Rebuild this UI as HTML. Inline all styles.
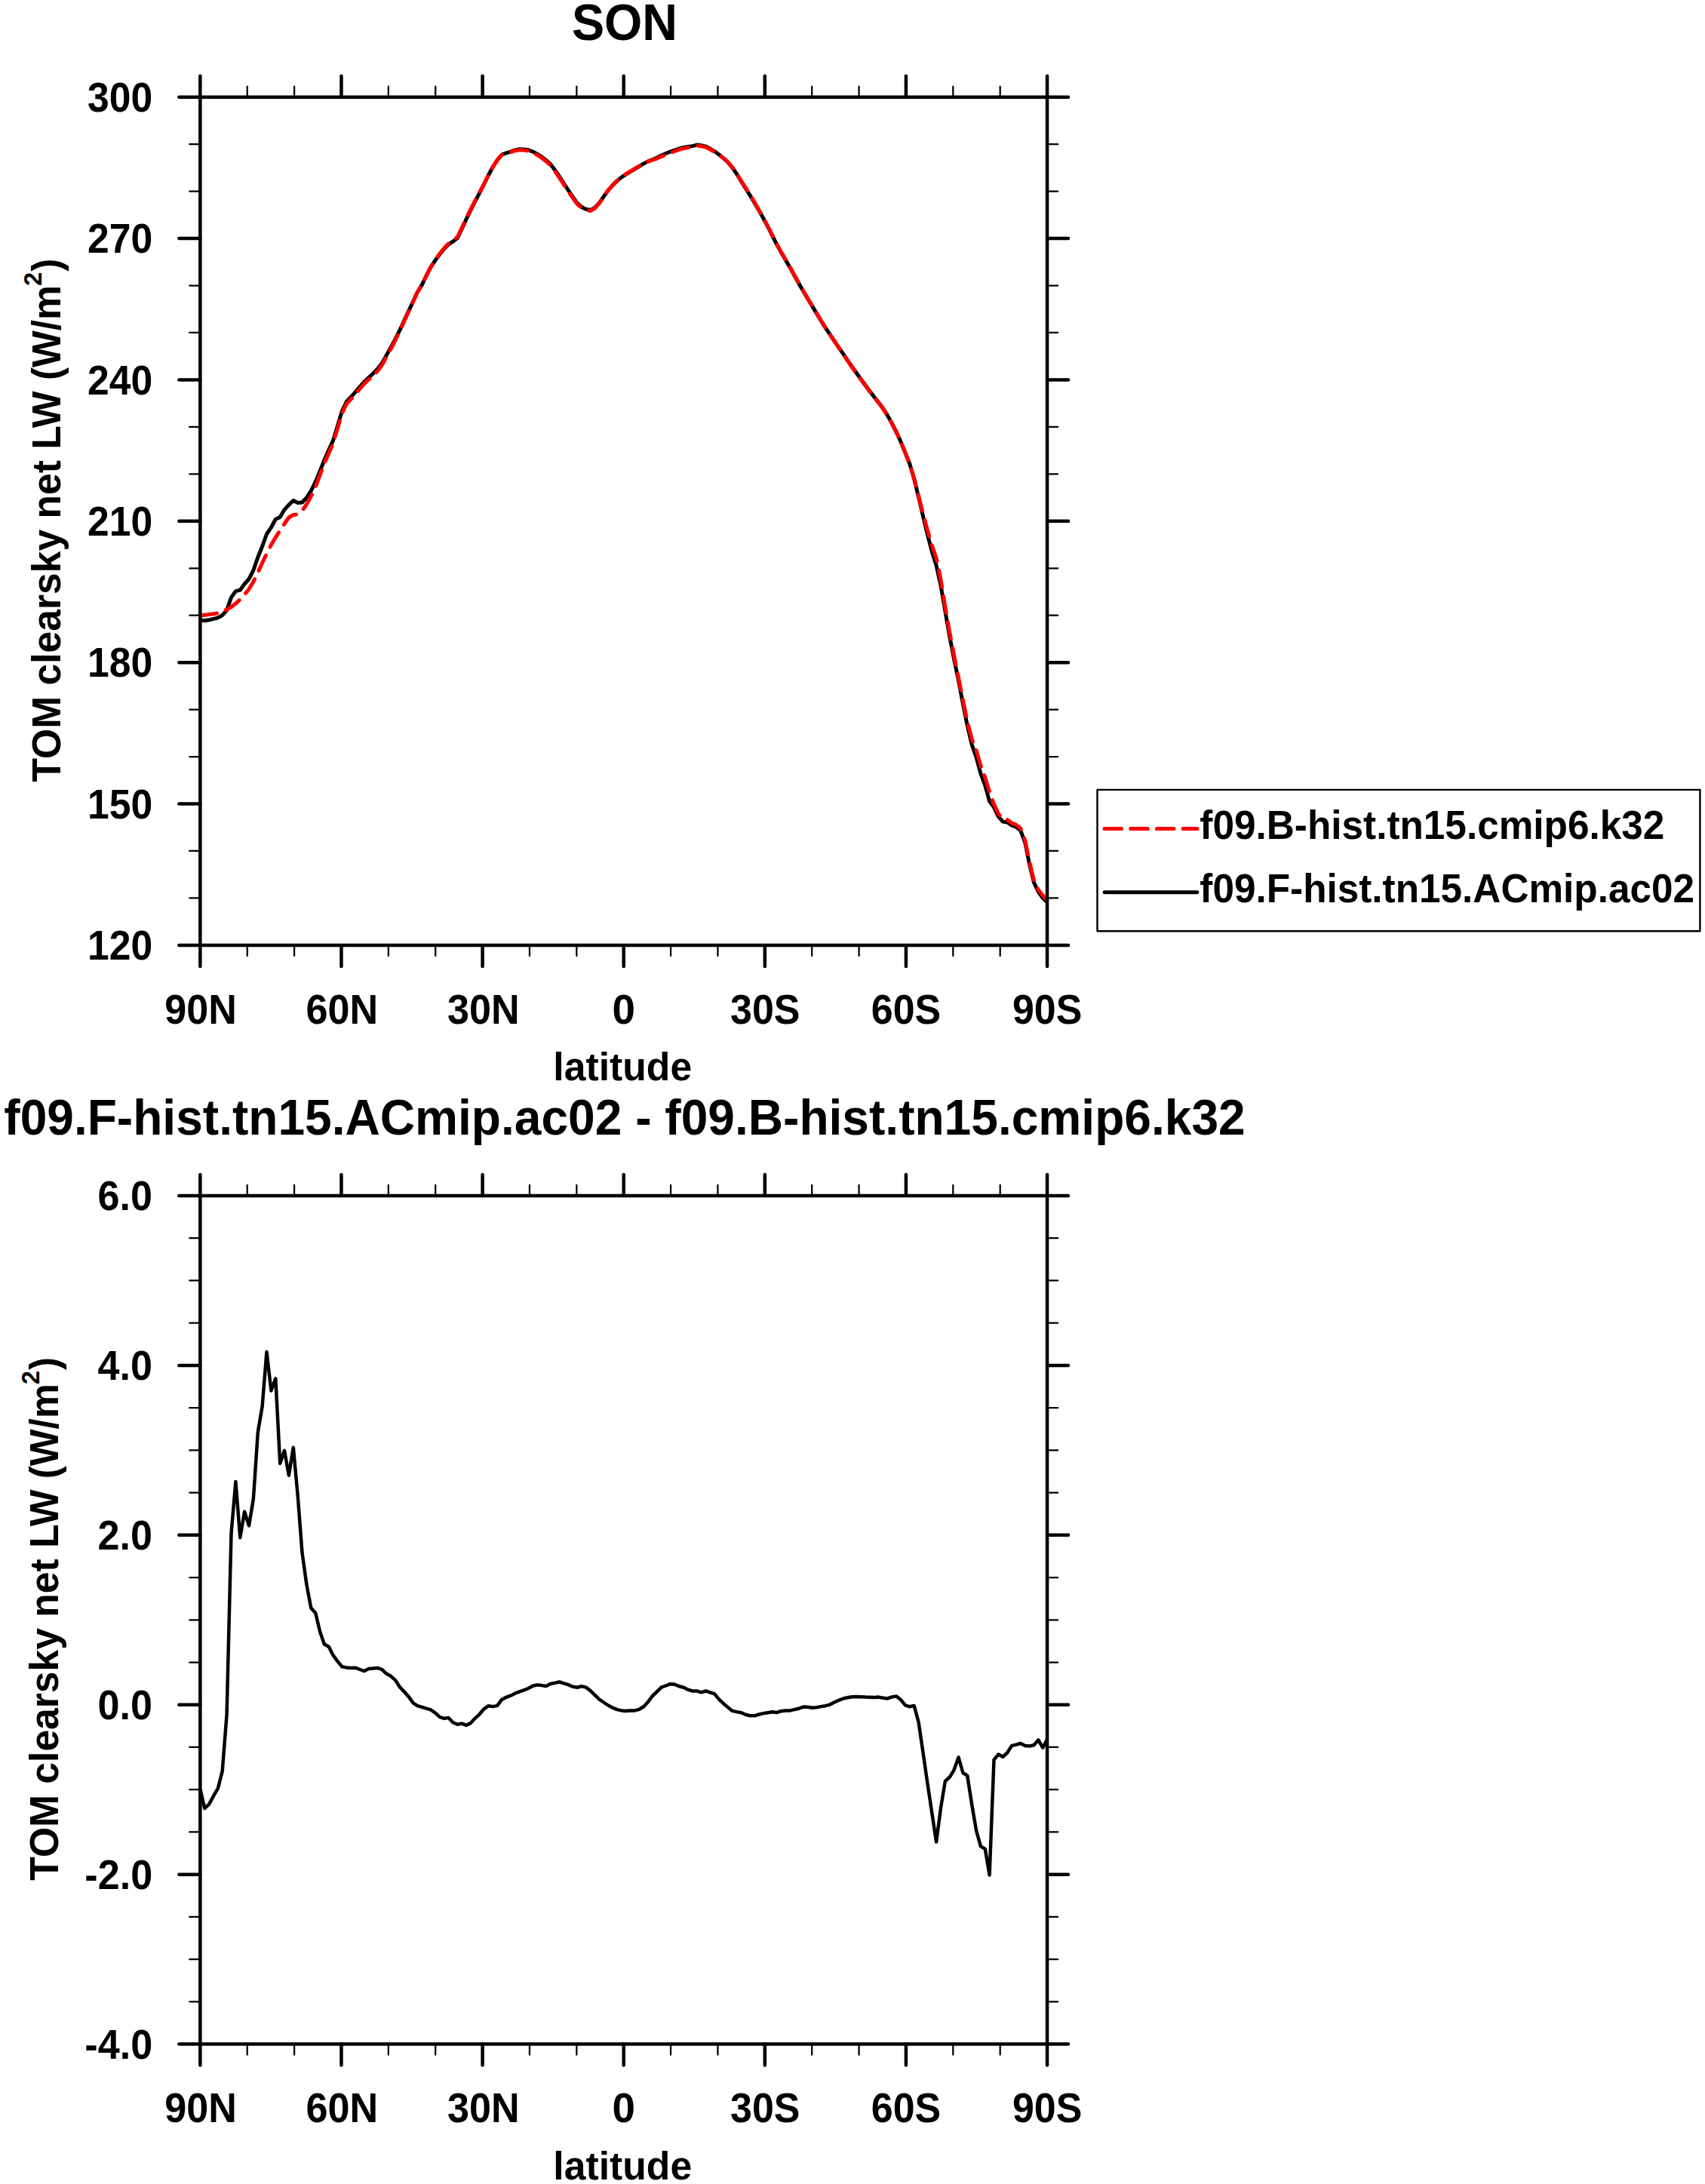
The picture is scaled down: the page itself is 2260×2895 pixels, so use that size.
<!DOCTYPE html>
<html><head><meta charset="utf-8"><title>SON</title>
<style>
html,body{margin:0;padding:0;background:#fff;}
svg{display:block;}
text{font-family:"Liberation Sans",sans-serif;font-weight:bold;fill:#000;white-space:pre;}
.fr{stroke:#000;stroke-width:4.5;stroke-linecap:round;fill:none;}
.mj{stroke:#000;stroke-width:4.5;stroke-linecap:round;fill:none;}
.mn{stroke:#000;stroke-width:2.25;stroke-linecap:round;fill:none;}
</style></head><body>
<svg width="2260" height="2895" viewBox="0 0 2260 2895">
<rect width="2260" height="2895" fill="#fff"/>

<defs><clipPath id="ct"><rect x="265.35" y="128.7" width="1122.6999999999998" height="1124.2"/></clipPath><clipPath id="cb"><rect x="265.35" y="1585.0" width="1122.6999999999998" height="1124.6"/></clipPath></defs>
<polyline points="265.4,822.1 271.2,822.8 277.1,821.7 283.0,820.4 288.9,818.8 294.7,815.6 300.6,808.8 306.5,791.9 312.4,783.7 318.3,782.2 324.1,774.0 330.0,767.5 335.9,755.9 341.8,738.8 347.6,724.3 353.5,708.0 359.4,699.2 365.3,688.3 371.2,685.4 377.0,675.6 382.9,669.1 388.8,663.5 394.7,666.5 400.5,666.0 406.4,659.6 412.3,650.6 418.2,638.7 424.1,624.4 429.9,609.9 435.8,596.4 441.7,583.6 447.6,564.0 453.4,544.9 459.3,532.5 465.2,526.3 471.1,519.7 477.0,512.7 482.8,506.2 488.7,500.5 494.6,495.1 500.5,489.0 506.3,481.4 512.2,471.1 518.1,460.4 524.0,449.3 529.9,437.6 535.7,425.0 541.6,412.4 547.5,399.7 553.4,387.1 559.3,377.7 565.1,365.7 571.0,354.2 576.9,345.2 582.8,337.2 588.6,330.0 594.5,323.9 600.4,320.2 606.3,315.6 612.2,303.5 618.0,290.7 623.9,278.7 629.8,266.8 635.7,255.6 641.5,244.3 647.4,232.2 653.3,221.3 659.2,212.1 665.1,205.0 670.9,202.8 676.8,201.2 682.7,198.9 688.6,197.7 694.4,198.0 700.3,198.8 706.2,201.0 712.1,204.1 718.0,207.9 723.8,212.5 729.7,217.7 735.6,225.4 741.5,234.0 747.3,243.0 753.2,252.1 759.1,260.8 765.0,269.1 770.9,274.4 776.7,277.2 782.6,278.4 788.5,275.2 794.4,269.0 800.2,260.6 806.1,252.4 812.0,245.7 817.9,239.9 823.8,235.0 829.6,231.1 835.5,227.5 841.4,224.0 847.3,220.5 853.2,216.9 859.0,213.9 864.9,211.5 870.8,209.1 876.7,206.1 882.5,203.5 888.4,201.1 894.3,199.0 900.2,197.0 906.1,195.4 911.9,194.5 917.8,193.6 923.7,192.1 929.6,192.8 935.4,194.1 941.3,197.1 947.2,200.6 953.1,204.9 959.0,209.6 964.8,215.0 970.7,222.1 976.6,230.6 982.5,240.4 988.3,249.6 994.2,259.0 1000.1,268.9 1006.0,279.1 1011.9,289.5 1017.7,300.4 1023.6,312.2 1029.5,323.8 1035.4,334.6 1041.2,344.4 1047.1,354.4 1053.0,365.2 1058.9,375.7 1064.8,385.9 1070.6,395.8 1076.5,405.6 1082.4,415.4 1088.3,425.1 1094.1,434.3 1100.0,443.2 1105.9,451.9 1111.8,460.6 1117.7,469.1 1123.5,477.7 1129.4,486.2 1135.3,494.5 1141.2,502.6 1147.1,510.6 1152.9,518.5 1158.8,526.2 1164.7,533.5 1170.6,541.4 1176.4,550.6 1182.3,561.2 1188.2,572.7 1194.1,585.7 1200.0,600.3 1205.8,614.9 1211.7,634.8 1217.6,658.9 1223.5,684.2 1229.3,708.1 1235.2,730.6 1241.1,749.8 1247.0,776.0 1252.9,810.2 1258.7,843.5 1264.6,873.8 1270.5,902.0 1276.4,932.9 1282.2,961.5 1288.1,986.7 1294.0,1003.6 1299.9,1025.3 1305.8,1041.0 1311.6,1062.3 1317.5,1070.1 1323.4,1082.3 1329.3,1089.1 1335.1,1090.0 1341.0,1093.9 1346.9,1096.3 1352.8,1100.9 1358.7,1116.8 1364.5,1145.2 1370.4,1169.6 1376.3,1182.0 1382.2,1190.2 1388.0,1195.6" fill="none" stroke="#000" stroke-width="5.0" stroke-linejoin="round" stroke-linecap="butt" clip-path="url(#ct)"/>
<polyline points="265.4,815.9 271.2,815.2 277.1,814.4 283.0,813.7 288.9,812.7 294.7,810.7 300.6,808.0 306.5,804.6 312.4,800.1 318.3,794.6 324.1,788.2 330.0,780.7 335.9,771.1 341.8,758.9 347.6,746.2 353.5,734.0 359.4,722.3 365.3,712.3 371.2,703.1 377.0,694.3 382.9,686.0 388.8,682.4 394.7,681.9 400.5,677.2 406.4,668.5 412.3,657.8 418.2,645.5 424.1,629.8 429.9,614.4 435.8,600.7 441.7,587.2 447.6,567.2 453.4,547.7 459.3,535.3 465.2,529.0 471.1,522.4 477.0,515.3 482.8,508.7 488.7,503.2 494.6,497.8 500.5,491.8 506.3,484.0 512.2,473.4 518.1,462.5 524.0,451.1 529.9,438.9 535.7,425.9 541.6,413.0 547.5,399.9 553.4,387.0 559.3,377.6 565.1,365.5 571.0,353.9 576.9,344.6 582.8,336.3 588.6,329.0 594.5,323.0 600.4,318.9 606.3,314.2 612.2,302.1 618.0,289.2 623.9,277.3 629.8,265.8 635.7,254.9 641.5,244.0 647.4,232.1 653.3,221.1 659.2,212.0 665.1,205.4 670.9,203.4 676.8,201.9 682.7,199.7 688.6,198.7 694.4,199.1 700.3,200.0 706.2,202.4 712.1,205.5 718.0,209.3 723.8,213.8 729.7,219.3 735.6,227.0 741.5,235.7 747.3,244.6 753.2,253.6 759.1,262.2 765.0,270.4 770.9,275.7 776.7,278.5 782.6,279.5 788.5,276.0 794.4,269.4 800.2,260.8 806.1,252.4 812.0,245.4 817.9,239.6 823.8,234.6 829.6,230.6 835.5,227.1 841.4,223.6 847.3,220.2 853.2,216.8 859.0,214.1 864.9,212.2 870.8,210.1 876.7,207.4 882.5,204.9 888.4,202.6 894.3,200.5 900.2,198.4 906.1,196.7 911.9,195.6 917.8,194.6 923.7,193.1 929.6,193.7 935.4,195.1 941.3,198.0 947.2,201.4 953.1,205.3 959.0,209.7 964.8,214.8 970.7,221.6 976.6,230.1 982.5,239.8 988.3,248.9 994.2,258.2 1000.1,268.1 1006.0,278.4 1011.9,288.9 1017.7,299.8 1023.6,311.6 1029.5,323.2 1035.4,334.1 1041.2,343.9 1047.1,354.0 1053.0,364.8 1058.9,375.4 1064.8,385.7 1070.6,395.6 1076.5,405.3 1082.4,415.2 1088.3,425.0 1094.1,434.2 1100.0,443.2 1105.9,452.1 1111.8,460.9 1117.7,469.6 1123.5,478.2 1129.4,486.8 1135.3,495.1 1141.2,503.2 1147.1,511.2 1152.9,519.1 1158.8,526.7 1164.7,534.1 1170.6,541.9 1176.4,551.0 1182.3,561.8 1188.2,573.3 1194.1,586.1 1200.0,600.2 1205.8,614.8 1211.7,634.7 1217.6,657.6 1223.5,680.7 1229.3,702.3 1235.2,722.7 1241.1,739.7 1247.0,768.4 1252.9,804.6 1258.7,838.1 1264.6,869.0 1270.5,898.2 1276.4,927.8 1282.2,956.3 1288.1,979.4 1294.0,994.3 1299.9,1014.9 1305.8,1030.4 1311.6,1049.8 1317.5,1066.1 1323.4,1078.6 1329.3,1085.3 1335.1,1086.5 1341.0,1090.9 1346.9,1093.4 1352.8,1098.0 1358.7,1113.8 1364.5,1142.2 1370.4,1166.6 1376.3,1179.4 1382.2,1187.1 1388.0,1193.0" fill="none" stroke="#f00" stroke-width="5.0" stroke-linejoin="round" stroke-linecap="round" stroke-dasharray="22.3 12.5" clip-path="url(#ct)"/>
<path class="mn" d="M327.72,128.70v-14.1M327.72,1252.90v14.1M390.09,128.70v-14.1M390.09,1252.90v14.1M514.84,128.70v-14.1M514.84,1252.90v14.1M577.21,128.70v-14.1M577.21,1252.90v14.1M701.96,128.70v-14.1M701.96,1252.90v14.1M764.33,128.70v-14.1M764.33,1252.90v14.1M889.07,128.70v-14.1M889.07,1252.90v14.1M951.44,128.70v-14.1M951.44,1252.90v14.1M1076.19,128.70v-14.1M1076.19,1252.90v14.1M1138.56,128.70v-14.1M1138.56,1252.90v14.1M1263.31,128.70v-14.1M1263.31,1252.90v14.1M1325.68,128.70v-14.1M1325.68,1252.90v14.1M265.35,191.16h-14.1M1388.05,191.16h14.1M265.35,253.61h-14.1M1388.05,253.61h14.1M265.35,378.52h-14.1M1388.05,378.52h14.1M265.35,440.98h-14.1M1388.05,440.98h14.1M265.35,565.89h-14.1M1388.05,565.89h14.1M265.35,628.34h-14.1M1388.05,628.34h14.1M265.35,753.26h-14.1M1388.05,753.26h14.1M265.35,815.71h-14.1M1388.05,815.71h14.1M265.35,940.62h-14.1M1388.05,940.62h14.1M265.35,1003.08h-14.1M1388.05,1003.08h14.1M265.35,1127.99h-14.1M1388.05,1127.99h14.1M265.35,1190.44h-14.1M1388.05,1190.44h14.1"/>
<path class="mj" d="M265.35,128.70v-28.0M265.35,1252.90v28.0M452.47,128.70v-28.0M452.47,1252.90v28.0M639.58,128.70v-28.0M639.58,1252.90v28.0M826.70,128.70v-28.0M826.70,1252.90v28.0M1013.82,128.70v-28.0M1013.82,1252.90v28.0M1200.93,128.70v-28.0M1200.93,1252.90v28.0M1388.05,128.70v-28.0M1388.05,1252.90v28.0M265.35,128.70h-28.0M1388.05,128.70h28.0M265.35,316.07h-28.0M1388.05,316.07h28.0M265.35,503.43h-28.0M1388.05,503.43h28.0M265.35,690.80h-28.0M1388.05,690.80h28.0M265.35,878.17h-28.0M1388.05,878.17h28.0M265.35,1065.53h-28.0M1388.05,1065.53h28.0M265.35,1252.90h-28.0M1388.05,1252.90h28.0"/>
<rect class="fr" x="265.35" y="128.70" width="1122.70" height="1124.20" stroke-linejoin="round"/>
<rect x="1454.5" y="1046.9" width="798.9" height="187.4" fill="#fff" stroke="#000" stroke-width="2.4" stroke-linejoin="round"/>
<path d="M1464.1,1098.5H1586.8" stroke="#f00" stroke-width="5.2" stroke-linecap="round" stroke-dasharray="22.4 12.3" fill="none"/>
<path d="M1464.1,1182.8H1586.8" stroke="#000" stroke-width="5" stroke-linecap="round" fill="none"/>
<polyline points="265.4,2371.5 271.2,2397.1 277.1,2391.6 283.0,2380.7 288.9,2370.6 294.7,2347.7 300.6,2272.6 306.5,2032.7 312.4,1964.0 318.3,2038.2 324.1,2003.8 330.0,2022.4 335.9,1986.6 341.8,1898.7 347.6,1864.4 353.5,1791.9 359.4,1843.5 365.3,1827.3 371.2,1939.9 377.0,1922.8 382.9,1955.7 388.8,1918.7 394.7,1982.6 400.5,2058.3 406.4,2100.4 412.3,2131.6 418.2,2138.0 424.1,2162.7 429.9,2179.5 435.8,2182.7 441.7,2194.4 447.6,2202.4 453.4,2209.3 459.3,2210.4 465.2,2211.1 471.1,2210.7 477.0,2213.0 482.8,2215.1 488.7,2211.9 494.6,2211.6 500.5,2210.9 506.3,2213.0 512.2,2218.6 518.1,2221.8 524.0,2227.1 529.9,2236.2 535.7,2242.4 541.6,2248.9 547.5,2257.3 553.4,2261.2 559.3,2262.8 565.1,2264.7 571.0,2266.3 576.9,2270.5 582.8,2275.8 588.6,2277.9 594.5,2277.0 600.4,2283.2 606.3,2285.8 612.2,2284.6 618.0,2286.9 623.9,2284.1 629.8,2277.6 635.7,2272.3 641.5,2265.3 647.4,2261.2 653.3,2262.1 659.2,2260.9 665.1,2252.9 670.9,2249.8 676.8,2247.7 682.7,2244.7 688.6,2242.4 694.4,2240.3 700.3,2238.0 706.2,2234.8 712.1,2233.4 718.0,2234.1 723.8,2235.0 729.7,2232.0 735.6,2230.9 741.5,2229.5 747.3,2231.3 753.2,2233.1 759.1,2235.7 765.0,2236.7 770.9,2235.2 776.7,2236.6 782.6,2241.1 788.5,2246.8 794.4,2252.6 800.2,2256.5 806.1,2260.5 812.0,2263.7 817.9,2266.1 823.8,2267.4 829.6,2267.9 835.5,2267.5 841.4,2267.4 847.3,2265.8 853.2,2262.3 859.0,2255.9 864.9,2248.0 870.8,2242.4 876.7,2236.7 882.5,2234.5 888.4,2232.2 894.3,2232.7 900.2,2235.2 906.1,2236.7 911.9,2239.7 917.8,2241.5 923.7,2241.5 929.6,2243.3 935.4,2241.5 941.3,2243.3 947.2,2245.4 953.1,2252.6 959.0,2258.2 964.8,2263.1 970.7,2267.9 976.6,2269.1 982.5,2270.2 988.3,2272.8 994.2,2274.3 1000.1,2274.3 1006.0,2272.5 1011.9,2271.1 1017.7,2270.2 1023.6,2269.3 1029.5,2270.0 1035.4,2268.2 1041.2,2267.5 1047.1,2267.4 1053.0,2266.1 1058.9,2264.7 1064.8,2262.6 1070.6,2262.8 1076.5,2263.8 1082.4,2263.3 1088.3,2262.1 1094.1,2261.2 1100.0,2259.6 1105.9,2256.5 1111.8,2253.8 1117.7,2251.5 1123.5,2250.3 1129.4,2249.2 1135.3,2249.1 1141.2,2249.2 1147.1,2249.6 1152.9,2249.8 1158.8,2249.9 1164.7,2249.6 1170.6,2250.7 1176.4,2251.4 1182.3,2249.4 1188.2,2248.5 1194.1,2253.3 1200.0,2260.4 1205.8,2262.3 1211.7,2261.0 1217.6,2282.9 1223.5,2323.0 1229.3,2363.2 1235.2,2402.4 1241.1,2441.6 1247.0,2396.5 1252.9,2361.0 1258.7,2355.8 1264.6,2346.1 1270.5,2329.4 1276.4,2350.0 1282.2,2353.6 1288.1,2391.3 1294.0,2426.1 1299.9,2447.4 1305.8,2450.9 1311.6,2485.5 1317.5,2332.6 1323.4,2325.5 1329.3,2328.7 1335.1,2323.5 1341.0,2314.1 1346.9,2312.6 1352.8,2311.0 1358.7,2313.9 1364.5,2314.6 1370.4,2313.2 1376.3,2306.4 1382.2,2316.7 1388.0,2305.9" fill="none" stroke="#000" stroke-width="4.5" stroke-linejoin="round" stroke-linecap="butt" clip-path="url(#cb)"/>
<path class="mn" d="M327.72,1585.00v-14.1M327.72,2709.60v14.1M390.09,1585.00v-14.1M390.09,2709.60v14.1M514.84,1585.00v-14.1M514.84,2709.60v14.1M577.21,1585.00v-14.1M577.21,2709.60v14.1M701.96,1585.00v-14.1M701.96,2709.60v14.1M764.33,1585.00v-14.1M764.33,2709.60v14.1M889.07,1585.00v-14.1M889.07,2709.60v14.1M951.44,1585.00v-14.1M951.44,2709.60v14.1M1076.19,1585.00v-14.1M1076.19,2709.60v14.1M1138.56,1585.00v-14.1M1138.56,2709.60v14.1M1263.31,1585.00v-14.1M1263.31,2709.60v14.1M1325.68,1585.00v-14.1M1325.68,2709.60v14.1M265.35,1641.23h-14.1M1388.05,1641.23h14.1M265.35,1697.46h-14.1M1388.05,1697.46h14.1M265.35,1753.69h-14.1M1388.05,1753.69h14.1M265.35,1866.15h-14.1M1388.05,1866.15h14.1M265.35,1922.38h-14.1M1388.05,1922.38h14.1M265.35,1978.61h-14.1M1388.05,1978.61h14.1M265.35,2091.07h-14.1M1388.05,2091.07h14.1M265.35,2147.30h-14.1M1388.05,2147.30h14.1M265.35,2203.53h-14.1M1388.05,2203.53h14.1M265.35,2315.99h-14.1M1388.05,2315.99h14.1M265.35,2372.22h-14.1M1388.05,2372.22h14.1M265.35,2428.45h-14.1M1388.05,2428.45h14.1M265.35,2540.91h-14.1M1388.05,2540.91h14.1M265.35,2597.14h-14.1M1388.05,2597.14h14.1M265.35,2653.37h-14.1M1388.05,2653.37h14.1"/>
<path class="mj" d="M265.35,1585.00v-28.0M265.35,2709.60v28.0M452.47,1585.00v-28.0M452.47,2709.60v28.0M639.58,1585.00v-28.0M639.58,2709.60v28.0M826.70,1585.00v-28.0M826.70,2709.60v28.0M1013.82,1585.00v-28.0M1013.82,2709.60v28.0M1200.93,1585.00v-28.0M1200.93,2709.60v28.0M1388.05,1585.00v-28.0M1388.05,2709.60v28.0M265.35,1585.00h-28.0M1388.05,1585.00h28.0M265.35,1809.92h-28.0M1388.05,1809.92h28.0M265.35,2034.84h-28.0M1388.05,2034.84h28.0M265.35,2259.76h-28.0M1388.05,2259.76h28.0M265.35,2484.68h-28.0M1388.05,2484.68h28.0M265.35,2709.60h-28.0M1388.05,2709.60h28.0"/>
<rect class="fr" x="265.35" y="1585.00" width="1122.70" height="1124.60" stroke-linejoin="round"/>
<text font-size="68.0" transform="translate(757.90,53.1) scale(0.9506,1)">SON</text>
<text font-size="66.0" transform="translate(5.29,1503.7) scale(0.9711,1)">f09.F-hist.tn15.ACmip.ac02 - f09.B-hist.tn15.cmip6.k32</text>
<text font-size="53.5" transform="translate(1590.34,1112.0) scale(0.9595,1)">f09.B-hist.tn15.cmip6.k32</text>
<text font-size="53.5" transform="translate(1590.34,1196.4) scale(0.9591,1)">f09.F-hist.tn15.ACmip.ac02</text>
<text font-size="55.0" transform="translate(218.30,1356.5) scale(0.9480,1)">90N</text>
<text font-size="55.0" transform="translate(405.42,1356.5) scale(0.9480,1)">60N</text>
<text font-size="55.0" transform="translate(592.90,1356.5) scale(0.9479,1)">30N</text>
<text font-size="55.0" transform="translate(811.51,1356.5) scale(0.9962,1)">0</text>
<text font-size="55.0" transform="translate(967.99,1356.5) scale(0.9450,1)">30S</text>
<text font-size="55.0" transform="translate(1154.80,1356.5) scale(0.9440,1)">60S</text>
<text font-size="55.0" transform="translate(1341.91,1356.5) scale(0.9440,1)">90S</text>
<text font-size="55.0" transform="translate(116.05,147.8) scale(0.9380,1)">300</text>
<text font-size="55.0" transform="translate(116.05,335.2) scale(0.9380,1)">270</text>
<text font-size="55.0" transform="translate(116.05,522.5) scale(0.9380,1)">240</text>
<text font-size="55.0" transform="translate(116.05,709.9) scale(0.9380,1)">210</text>
<text font-size="55.0" transform="translate(116.05,897.3) scale(0.9380,1)">180</text>
<text font-size="55.0" transform="translate(116.05,1084.6) scale(0.9380,1)">150</text>
<text font-size="55.0" transform="translate(116.05,1272.0) scale(0.9380,1)">120</text>
<text font-size="52.0" transform="translate(733.27,1432.3) scale(0.9950,1)">latitude</text>
<text font-size="53.5" transform="translate(80.0,1036.48) rotate(-90) scale(0.9647,1)">TOM clearsky net LW (W/m<tspan x="681.46" dy="-25.2" font-size="34.0">2</tspan><tspan x="701.54" dy="25.2">)</tspan></text>
<text font-size="55.0" transform="translate(218.30,2812.7) scale(0.9480,1)">90N</text>
<text font-size="55.0" transform="translate(405.42,2812.7) scale(0.9480,1)">60N</text>
<text font-size="55.0" transform="translate(592.90,2812.7) scale(0.9479,1)">30N</text>
<text font-size="55.0" transform="translate(811.51,2812.7) scale(0.9962,1)">0</text>
<text font-size="55.0" transform="translate(967.99,2812.7) scale(0.9450,1)">30S</text>
<text font-size="55.0" transform="translate(1154.80,2812.7) scale(0.9440,1)">60S</text>
<text font-size="55.0" transform="translate(1341.91,2812.7) scale(0.9440,1)">90S</text>
<text font-size="55.0" transform="translate(129.61,1604.1) scale(0.9480,1)">6.0</text>
<text font-size="55.0" transform="translate(129.61,1829.0) scale(0.9480,1)">4.0</text>
<text font-size="55.0" transform="translate(129.61,2053.9) scale(0.9480,1)">2.0</text>
<text font-size="55.0" transform="translate(129.61,2278.9) scale(0.9480,1)">0.0</text>
<text font-size="55.0" transform="translate(112.31,2503.8) scale(0.9480,1)">-2.0</text>
<text font-size="55.0" transform="translate(112.31,2728.7) scale(0.9480,1)">-4.0</text>
<text font-size="52.0" transform="translate(733.27,2888.5) scale(0.9950,1)">latitude</text>
<text font-size="53.5" transform="translate(77.0,2492.68) rotate(-90) scale(0.9647,1)">TOM clearsky net LW (W/m<tspan x="681.46" dy="-25.2" font-size="34.0">2</tspan><tspan x="701.54" dy="25.2">)</tspan></text>
</svg></body></html>
